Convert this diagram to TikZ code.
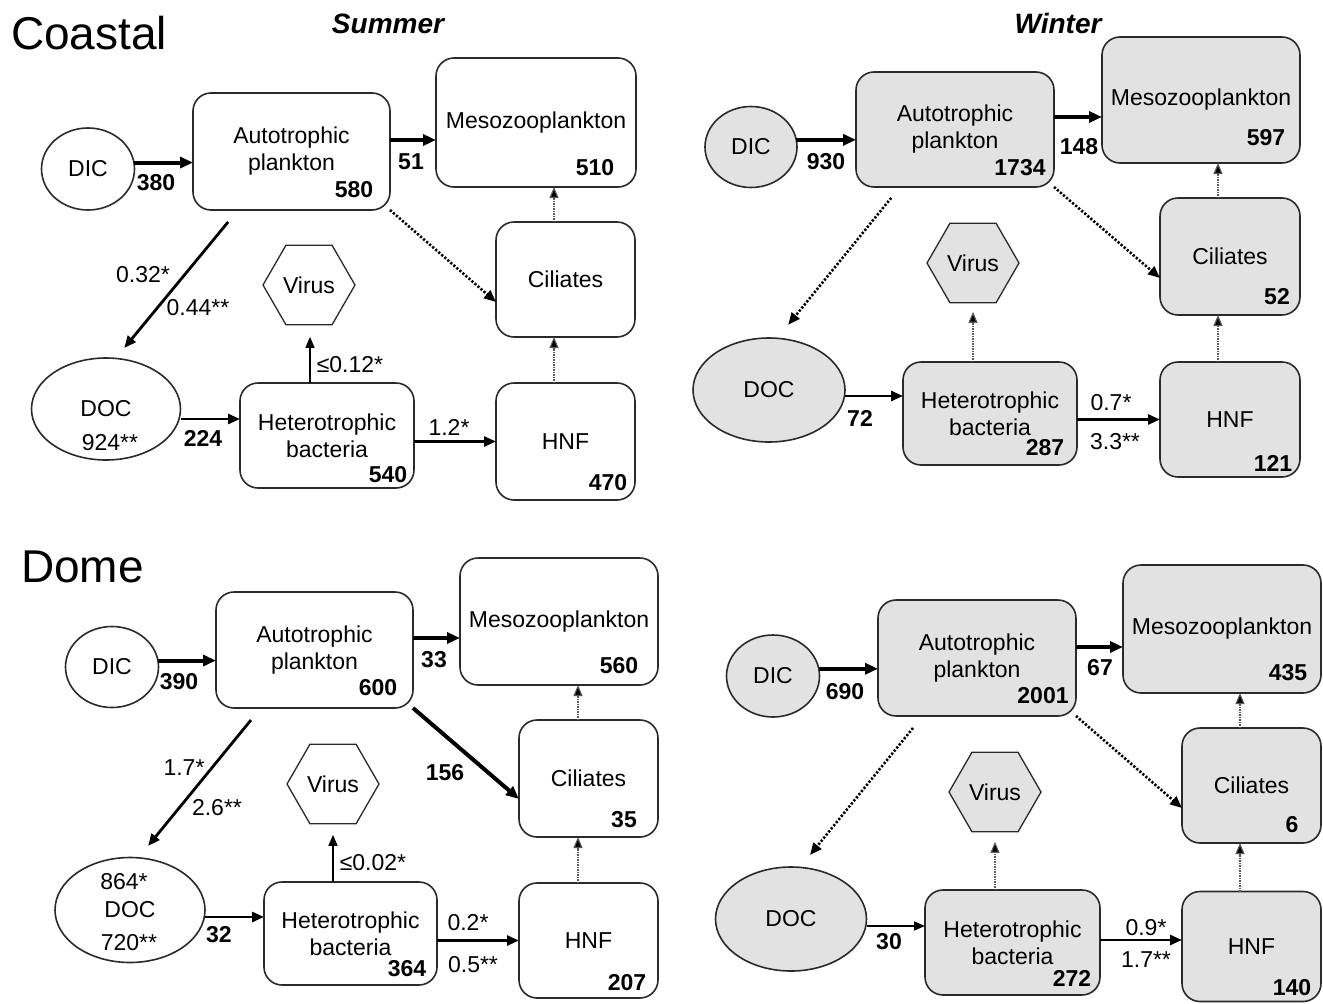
\documentclass[tikz,border=0pt]{standalone}
\usepackage{fontspec}
\setmainfont{Liberation Sans}
\usetikzlibrary{shapes.geometric,arrows.meta}
\definecolor{wfill}{HTML}{E2E2E2}
\definecolor{lnc}{HTML}{2A2A2A}
\newcommand\nf{\fontsize{23}{27}\selectfont}
\begin{document}
\begin{tikzpicture}[x=1pt,y=-1pt,
  every node/.style={inner sep=0pt, outer sep=0pt, font=\nf},
  bx/.style={draw=lnc, line width=1.6pt, rounded corners=18pt, align=center},
  wb/.style={bx, fill=wfill},
  ov/.style={ellipse, draw=lnc, line width=1.6pt},
  wov/.style={ov, fill=wfill},
  hexa/.style={regular polygon, regular polygon sides=6, draw=lnc, line width=1.3pt, minimum size=92pt},
  whexa/.style={hexa, fill=wfill},
  num/.style={font=\nf\bfseries},
  ttl/.style={font=\fontsize{46}{50}\selectfont, anchor=base west},
  season/.style={font=\fontsize{28}{32}\selectfont\bfseries\itshape, anchor=base},
  thk/.style={line width=4pt, -{Triangle[length=13pt,width=11pt]}},
  med/.style={line width=2.8pt, -{Triangle[length=12pt,width=10pt]}},
  thn/.style={line width=1.5pt, -{Triangle[length=11pt,width=9pt]}},
  dotarr/.style={line width=2.6pt, dash pattern=on 2.2pt off 1.8pt, -{Triangle[length=12pt,width=10pt]}},
  vdot/.style={line width=1.1pt, draw=black!65, dash pattern=on 1.3pt off 1.2pt, -{Triangle[length=11pt,width=9pt,fill=black]}}
]
\useasboundingbox (0,0) rectangle (1323,1004);

% titles
\node[ttl] (tC) at (11,49) {Coastal};
\node[ttl] (tD) at (21,582) {Dome};
\node[season] (tS) at (388,33) {Summer};
\node[season] (tW) at (1058,33) {Winter};

%%%%%%%%%%%%%%%% Coastal Summer
\node[ov, minimum width=93pt, minimum height=82pt] (DIC1) at (88,169) {DIC};
\node[bx, minimum width=197pt, minimum height=117pt] (Auto1) at (291.5,151.5) {Autotrophic\\plankton};
\node[bx, minimum width=200pt, minimum height=129pt] (Meso1) at (536,122.5) {Mesozooplankton};
\node[bx, minimum width=139pt, minimum height=115pt] (Cil1) at (565.5,279.5) {Ciliates};
\node[bx, minimum width=139pt, minimum height=117pt] (HNF1) at (565.5,441.5) {HNF};
\node[bx, minimum width=174pt, minimum height=105pt] (HB1) at (327,435.5) {Heterotrophic\\bacteria};
\node[ov, minimum width=149pt, minimum height=102pt] (DOC1) at (106,409) {DOC};
\node[hexa] (Vir1) at (309,285) {Virus};

\node[num] (n1a) at (156,183) {380};
\node[num] (n1b) at (354,190) {580};
\node[num] (n1c) at (411,162) {51};
\node[num] (n1d) at (595,168) {510};
\node[num] (n1e) at (203,438) {224};
\node[num] (n1f) at (388,475) {540};
\node[num] (n1g) at (608,483) {470};
\node (l1a) at (143,275) {0.32*};
\node (l1b) at (198,308) {0.44**};
\node (l1c) at (350,365) {≤0.12*};
\node (l1d) at (449,427) {1.2*};
\node (l1e) at (110,443) {924**};

\draw[thk] (DIC1.8) -- (DIC1.8 -| Auto1.west);
\draw[thk] ([yshift=11.5pt]Auto1.east) -- ([yshift=11.5pt]Auto1.east -| Meso1.west);
\draw[dotarr] (Auto1.south east) -- ([yshift=-22.5pt]Cil1.west);
\draw[vdot] ([xshift=-11.5pt]Cil1.north) -- ([xshift=-11.5pt]Cil1.north |- Meso1.south);
\draw[vdot] ([xshift=-11.5pt]HNF1.north) -- ([xshift=-11.5pt]HNF1.north |- Cil1.south);
\draw[med, shorten <=15.5pt, shorten >=13pt] ([xshift=-53.5pt]Auto1.south) -- ([xshift=10pt]DOC1.north);
\draw[thn, shorten >=12pt] ([xshift=-17pt]HB1.north) -- ([xshift=-17pt]HB1.north |- Vir1.south);
\draw[med] ([yshift=-10pt]DOC1.east) -- ([yshift=-10pt]DOC1.east -| HB1.west);
\draw[med] (HB1.east |- HNF1.west) -- (HNF1.west);

%%%%%%%%%%%%%%%% Coastal Winter
\node[wov, minimum width=92pt, minimum height=81pt] (DIC2) at (751,147) {DIC};
\node[wb, minimum width=198pt, minimum height=115pt] (Auto2) at (955,129.5) {Autotrophic\\plankton};
\node[wb, minimum width=198pt, minimum height=126pt] (Meso2) at (1201,100) {Mesozooplankton};
\node[wb, minimum width=140pt, minimum height=117pt] (Cil2) at (1230,256.5) {Ciliates};
\node[wb, minimum width=140pt, minimum height=115pt] (HNF2) at (1230,419.5) {HNF};
\node[wb, minimum width=174pt, minimum height=103pt] (HB2) at (990,413.5) {Heterotrophic\\bacteria};
\node[wov, minimum width=152pt, minimum height=104pt] (DOC2) at (769,390) {DOC};
\node[whexa] (Vir2) at (973,263) {Virus};

\node[num] (n2a) at (826,162) {930};
\node[num] (n2b) at (1020,168) {1734};
\node[num] (n2c) at (1079,147) {148};
\node[num] (n2d) at (1266,138) {597};
\node[num] (n2e) at (1277,297) {52};
\node[num] (n2f) at (1273,463) {121};
\node[num] (n2g) at (860,418) {72};
\node[num] (n2h) at (1045,448) {287};
\node (l2a) at (1111,403) {0.7*};
\node (l2b) at (1115,442) {3.3**};

\draw[thk] (DIC2.9) -- (DIC2.9 -| Auto2.west);
\draw[thk] ([yshift=12.5pt]Auto2.east) -- ([yshift=12.5pt]Auto2.east -| Meso2.west);
\draw[dotarr] (Auto2.south east) -- ([yshift=-21.5pt]Cil2.west);
\draw[dotarr, shorten <=14pt, shorten >=17pt] ([xshift=-55pt]Auto2.south) -- ([xshift=8.5pt]DOC2.north);
\draw[vdot] ([xshift=-12pt]Cil2.north) -- ([xshift=-12pt]Cil2.north |- Meso2.south);
\draw[vdot] ([xshift=-12pt]HNF2.north) -- ([xshift=-12pt]HNF2.north |- Cil2.south);
\draw[vdot, shorten >=9pt] ([xshift=-17pt]HB2.north) -- ([xshift=-17pt]HB2.north |- Vir2.south);
\draw[med] ([yshift=-6pt]DOC2.east) -- ([yshift=-6pt]DOC2.east -| HB2.west);
\draw[med] (HB2.east |- HNF2.west) -- (HNF2.west);

%%%%%%%%%%%%%%%% Dome Summer
\node[ov, minimum width=93pt, minimum height=81pt] (DIC3) at (112,667) {DIC};
\node[bx, minimum width=197pt, minimum height=116pt] (Auto3) at (314.5,650) {Autotrophic\\plankton};
\node[bx, minimum width=198pt, minimum height=127pt] (Meso3) at (559,621.5) {Mesozooplankton};
\node[bx, minimum width=139pt, minimum height=117pt] (Cil3) at (588.5,778.5) {Ciliates};
\node[bx, minimum width=139pt, minimum height=115pt] (HNF3) at (588.5,940.5) {HNF};
\node[bx, minimum width=173pt, minimum height=103pt] (HB3) at (350.5,933.5) {Heterotrophic\\bacteria};
\node[ov, minimum width=150pt, minimum height=105pt] (DOC3) at (130,910) {DOC};
\node[hexa] (Vir3) at (333,784) {Virus};

\node[num] (n3a) at (179,682) {390};
\node[num] (n3b) at (378,688) {600};
\node[num] (n3c) at (434,660) {33};
\node[num] (n3d) at (619,666) {560};
\node[num] (n3e) at (624,820) {35};
\node[num] (n3f) at (627,983) {207};
\node[num] (n3g) at (445,773) {156};
\node[num] (n3h) at (219,935) {32};
\node[num] (n3i) at (407,969) {364};
\node (l3a) at (184,768) {1.7*};
\node (l3b) at (217,808) {2.6**};
\node (l3c) at (373,863) {≤0.02*};
\node (l3d) at (124,882) {864*};
\node (l3e) at (129,943) {720**};
\node (l3f) at (468,923) {0.2*};
\node (l3g) at (473,965) {0.5**};

\draw[thk] (DIC3.8) -- (DIC3.8 -| Auto3.west);
\draw[thk] ([yshift=12pt]Auto3.east) -- ([yshift=12pt]Auto3.east -| Meso3.west);
\draw[thk] (Auto3.south east) -- ([yshift=-20.5pt]Cil3.west);
\draw[vdot] ([xshift=-10.5pt]Cil3.north) -- ([xshift=-10.5pt]Cil3.north |- Meso3.south);
\draw[vdot] ([xshift=-10.5pt]HNF3.north) -- ([xshift=-10.5pt]HNF3.north |- Cil3.south);
\draw[med, shorten <=15.5pt, shorten >=15pt] ([xshift=-53.7pt]Auto3.south) -- ([xshift=8.6pt]DOC3.north);
\draw[thn, shorten >=11pt] ([xshift=-17.5pt]HB3.north) -- ([xshift=-17.5pt]HB3.north |- Vir3.south);
\draw[med] ([yshift=-7pt]DOC3.east) -- ([yshift=-7pt]DOC3.east -| HB3.west);
\draw[med] (HB3.east |- HNF3.west) -- (HNF3.west);

%%%%%%%%%%%%%%%% Dome Winter
\node[wov, minimum width=93pt, minimum height=82pt] (DIC4) at (773,676) {DIC};
\node[wb, minimum width=198pt, minimum height=116pt] (Auto4) at (977,658) {Autotrophic\\plankton};
\node[wb, minimum width=198pt, minimum height=128pt] (Meso4) at (1222,629) {Mesozooplankton};
\node[wb, minimum width=139pt, minimum height=115pt] (Cil4) at (1251.5,785.5) {Ciliates};
\node[wb, minimum width=139pt, minimum height=110pt] (HNF4) at (1251.5,946.5) {HNF};
\node[wb, minimum width=175pt, minimum height=105pt] (HB4) at (1012.5,942.5) {Heterotrophic\\bacteria};
\node[wov, minimum width=151pt, minimum height=104pt] (DOC4) at (791,919) {DOC};
\node[whexa] (Vir4) at (995,792) {Virus};

\node[num] (n4a) at (845,692) {690};
\node[num] (n4b) at (1043,696) {2001};
\node[num] (n4c) at (1100,668) {67};
\node[num] (n4d) at (1288,673) {435};
\node[num] (n4e) at (1292,825) {6};
\node[num] (n4f) at (1292,988) {140};
\node[num] (n4g) at (889,942) {30};
\node[num] (n4h) at (1072,978) {272};
\node (l4a) at (1146,928) {0.9*};
\node (l4b) at (1146,960) {1.7**};

\draw[thk] (DIC4.9) -- (DIC4.9 -| Auto4.west);
\draw[thk] ([yshift=11pt]Auto4.east) -- ([yshift=11pt]Auto4.east -| Meso4.west);
\draw[dotarr] (Auto4.south east) -- ([yshift=-22.5pt]Cil4.west);
\draw[dotarr, shorten <=15.4pt, shorten >=15.4pt] ([xshift=-54.3pt]Auto4.south) -- ([xshift=9.3pt]DOC4.north);
\draw[vdot] ([xshift=-11.5pt]Cil4.north) -- ([xshift=-11.5pt]Cil4.north |- Meso4.south);
\draw[vdot] ([xshift=-11.5pt]HNF4.north) -- ([xshift=-11.5pt]HNF4.north |- Cil4.south);
\draw[vdot, shorten >=10pt] ([xshift=-17.5pt]HB4.north) -- ([xshift=-17.5pt]HB4.north |- Vir4.south);
\draw[thn] ([yshift=-7pt]DOC4.east) -- ([yshift=-7pt]DOC4.east -| HB4.west);
\draw[med] ([yshift=2.5pt]HB4.east) -- ([yshift=2.5pt]HB4.east -| HNF4.west);
\end{tikzpicture}
\end{document}
